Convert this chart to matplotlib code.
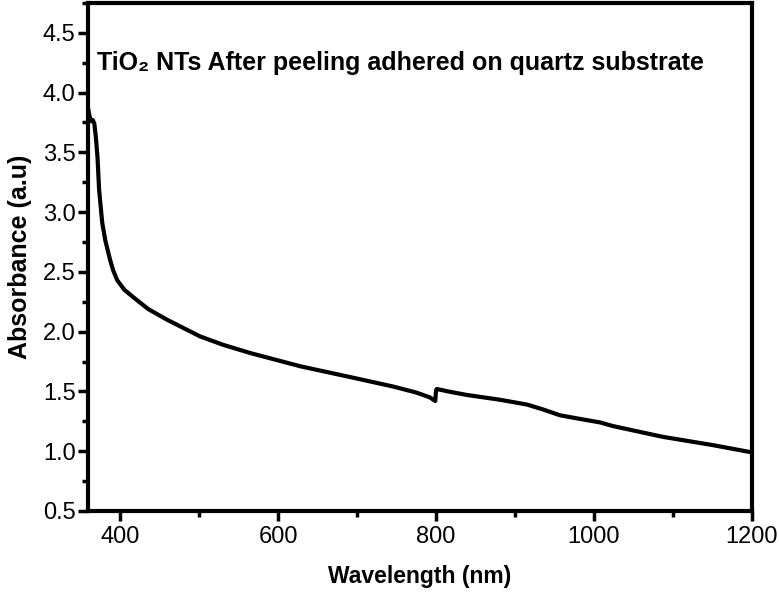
import matplotlib
matplotlib.use("Agg")
from matplotlib import pyplot as plt
from matplotlib.ticker import MultipleLocator

# absorbance spectrum
wavelength = [359, 361, 363, 365, 367, 369, 371, 373, 377, 381, 384, 387, 391, 396, 405,
              416, 435, 459, 480, 501, 530, 565, 628, 691, 746, 775, 792, 799,
              800, 801, 815, 839, 881, 915, 935, 957, 982, 1008, 1024, 1087, 1151, 1200]
absorbance = [3.87, 3.80, 3.76, 3.77, 3.74, 3.62, 3.46, 3.19, 2.91, 2.76, 2.68, 2.60, 2.51, 2.43, 2.35,
              2.29, 2.19, 2.10, 2.03, 1.96, 1.89, 1.82, 1.71, 1.62, 1.54, 1.49, 1.45, 1.42,
              1.51, 1.52, 1.50, 1.47, 1.43, 1.39, 1.35, 1.30, 1.27, 1.24, 1.21, 1.12, 1.05, 0.99]

title = "TiO\u2082 NTs After peeling adhered on quartz substrate"

plt.rcParams['font.family'] = ['Liberation Sans', 'DejaVu Sans']

fig = plt.figure(figsize=(7.79, 5.92), dpi=100)
ax = fig.add_axes([0.113, 0.137, 0.852, 0.858])
ax.plot(wavelength, absorbance, color='black', lw=3, solid_joinstyle='round')

ax.set_xlim(359, 1200)
ax.set_ylim(0.5, 4.75)
ax.xaxis.set_major_locator(MultipleLocator(200))
ax.xaxis.set_minor_locator(MultipleLocator(100))
ax.yaxis.set_major_locator(MultipleLocator(0.5))
ax.yaxis.set_minor_locator(MultipleLocator(0.25))
ax.tick_params(which='major', direction='out', length=7, width=2.5, labelsize=17, pad=4)
ax.tick_params(axis='y', which='major', pad=2)
ax.tick_params(which='minor', direction='out', length=4, width=2.5)
for s in ax.spines.values():
    s.set_linewidth(3)

ax.set_xlabel("Wavelength (nm)", fontsize=16.5, fontweight='bold', labelpad=12)
ax.set_ylabel("Absorbance (a.u)", fontsize=18, fontweight='bold', labelpad=8)
ax.text(0.013, 0.882, title, transform=ax.transAxes, fontsize=18,
        fontweight='bold', va='center', ha='left')

fig.savefig("out.png", dpi=100)
